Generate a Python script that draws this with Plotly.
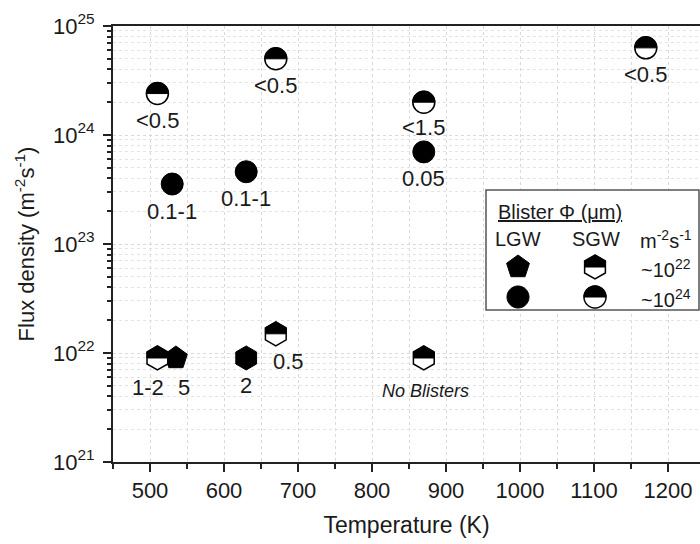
import numpy as np
import plotly.graph_objects as go

# ---------------- data ----------------
# LGW, ~1e24 m^-2 s^-1 (solid circles)
lgw_hi_T = [530, 630, 870]
lgw_hi_flux = [3.55e23, 4.6e23, 7.0e23]
lgw_hi_label = ["0.1-1", "0.1-1", "0.05"]

# SGW, ~1e24 m^-2 s^-1 (half-filled circles)
sgw_hi_T = [510, 670, 870, 1170]
sgw_hi_flux = [2.4e24, 5.0e24, 2.0e24, 6.3e24]
sgw_hi_label = ["<0.5", "<0.5", "<1.5", "<0.5"]

# LGW, ~1e22 m^-2 s^-1 (solid pentagon)
lgw_lo_T = [535]
lgw_lo_flux = [9.0e21]
lgw_lo_label = ["5"]

# LGW, ~1e22 (solid hexagon)
lgw_hex_T = [630]
lgw_hex_flux = [9.0e21]
lgw_hex_label = ["2"]

# SGW, ~1e22 m^-2 s^-1 (half-filled hexagons)
sgw_lo_T = [510, 670, 870]
sgw_lo_flux = [9.0e21, 1.5e22, 9.0e21]
sgw_lo_label = ["1-2", "0.5", "<i>No Blisters</i>"]

x_tickvals = [500, 600, 700, 800, 900, 1000, 1100, 1200]
x_ticktext = ["500", "600", "700", "800", "900", "1000", "1100", "1200"]
y_tickvals = [1e21, 1e22, 1e23, 1e24, 1e25]
y_ticktext = ["10<sup>21</sup>", "10<sup>22</sup>", "10<sup>23</sup>", "10<sup>24</sup>", "10<sup>25</sup>"]

# ---------------- glyph helpers (pixel paths, y up) ----------------
def poly_path(pts):
    pts = list(pts)
    return "M " + " L ".join(f"{x:.2f},{y:.2f}" for x, y in pts) + " Z"

def circle_full(R):
    th = np.linspace(0, 2 * np.pi, 65)[:-1]
    return poly_path(zip(R * np.cos(th), R * np.sin(th)))

def circle_top(R):
    th = np.linspace(0, np.pi, 33)
    return poly_path(zip(R * np.cos(th), R * np.sin(th)))

def hex_full(r):
    a = np.radians([90, 30, -30, -90, -150, 150])
    return poly_path(zip(r * np.cos(a), r * np.sin(a)))

def hex_top(r):
    x1 = r * np.sqrt(3) / 2
    return poly_path([(x1, 0), (x1, r / 2), (0, r), (-x1, r / 2), (-x1, 0)])

def pentagon(r):
    a = np.radians(90 + 72 * np.arange(5))
    return poly_path(zip(r * np.cos(a), r * np.sin(a)))

FONT = "Liberation Sans, Arial, sans-serif"
R_C = 11   # circle radius px
R_H = 12   # hexagon radius px

fig = go.Figure()

# solid circles
fig.add_trace(go.Scatter(x=lgw_hi_T, y=lgw_hi_flux, mode="markers",
                         marker=dict(symbol="circle", size=2 * R_C, color="black",
                                     line=dict(color="black", width=1)),
                         showlegend=False, hoverinfo="skip"))
# half circles (white base)
fig.add_trace(go.Scatter(x=sgw_hi_T, y=sgw_hi_flux, mode="markers",
                         marker=dict(symbol="circle", size=2 * R_C, color="white",
                                     line=dict(color="black", width=1.5)),
                         showlegend=False, hoverinfo="skip"))
# pentagon
fig.add_trace(go.Scatter(x=lgw_lo_T, y=lgw_lo_flux, mode="markers",
                         marker=dict(symbol="pentagon", size=24, color="black",
                                     line=dict(color="black", width=1)),
                         showlegend=False, hoverinfo="skip"))
# solid hexagon
fig.add_trace(go.Scatter(x=lgw_hex_T, y=lgw_hex_flux, mode="markers",
                         marker=dict(symbol="hexagon", size=2 * R_H, color="black",
                                     line=dict(color="black", width=1)),
                         showlegend=False, hoverinfo="skip"))
# half hexagons (white base)
fig.add_trace(go.Scatter(x=sgw_lo_T, y=sgw_lo_flux, mode="markers",
                         marker=dict(symbol="hexagon", size=2 * R_H, color="white",
                                     line=dict(color="black", width=1.5)),
                         showlegend=False, hoverinfo="skip"))

shapes = []
for t, f in zip(sgw_hi_T, sgw_hi_flux):
    shapes.append(dict(type="path", xref="x", yref="y", xsizemode="pixel", ysizemode="pixel",
                       xanchor=t, yanchor=f, path=circle_top(R_C),
                       fillcolor="black", line=dict(color="black", width=1), layer="above"))
for t, f in zip(sgw_lo_T, sgw_lo_flux):
    shapes.append(dict(type="path", xref="x", yref="y", xsizemode="pixel", ysizemode="pixel",
                       xanchor=t, yanchor=f, path=hex_top(R_H),
                       fillcolor="black", line=dict(color="black", width=1), layer="above"))

# ---------------- point labels ----------------
annotations = []
def add_labels(Ts, Fs, labels, offsets=None):
    for i, (t, f, lab) in enumerate(zip(Ts, Fs, labels)):
        dx, dy = (offsets or {}).get(i, (0, -27))
        annotations.append(dict(x=t, y=np.log10(f), xref="x", yref="y", text=lab,
                                showarrow=False, xshift=dx, yshift=dy,
                                font=dict(family=FONT, size=22, color="#1a1a1a")))

add_labels(lgw_hi_T, lgw_hi_flux, lgw_hi_label)
add_labels(sgw_hi_T, sgw_hi_flux, sgw_hi_label, {2: (0, -25)})
add_labels(lgw_lo_T, lgw_lo_flux, lgw_lo_label, {0: (8, -30)})
add_labels(lgw_hex_T, lgw_hex_flux, lgw_hex_label, {0: (0, -28)})
for i, (t, f, lab) in enumerate(zip(sgw_lo_T, sgw_lo_flux, sgw_lo_label)):
    dx, dy, sz = {0: (-9, -30, 22), 1: (13, -28, 22), 2: (2, -33, 18)}[i]
    annotations.append(dict(x=t, y=np.log10(f), xref="x", yref="y", text=lab,
                            showarrow=False, xshift=dx, yshift=dy,
                            font=dict(family=FONT, size=sz, color="#1a1a1a")))

# ---------------- custom legend box ----------------
L, T_, W, H = 113, 26, 587, 436
def px(xp): return (xp - L) / W
def py(yp): return (T_ + H - yp) / H

shapes.append(dict(type="rect", xref="paper", yref="paper", x0=px(486), x1=px(699),
                   y0=py(310), y1=py(190), fillcolor="white",
                   line=dict(color="#555555", width=1.5), layer="above"))
def leg_shape(xp, yp, path, fill, lw=1):
    shapes.append(dict(type="path", xref="paper", yref="paper", xsizemode="pixel", ysizemode="pixel",
                       xanchor=px(xp), yanchor=py(yp), path=path, fillcolor=fill,
                       line=dict(color="black", width=lw), layer="above"))
leg_shape(518, 267, pentagon(12), "black")
leg_shape(595, 267, hex_full(R_H), "white", 1.5)
leg_shape(595, 267, hex_top(R_H), "black")
leg_shape(518, 297, circle_full(R_C), "black")
leg_shape(595, 297, circle_full(R_C), "white", 1.5)
leg_shape(595, 297, circle_top(R_C), "black")

def leg_text(xp, yp, text, size=20, anchor="center"):
    annotations.append(dict(x=px(xp), y=py(yp), xref="paper", yref="paper", text=text,
                            showarrow=False, xanchor=anchor, yanchor="middle",
                            font=dict(family=FONT, size=size, color="#1a1a1a")))
leg_text(496, 212, "<u>Blister Φ (μm)</u>", 20, "left")
leg_text(518, 239, "LGW")
leg_text(596, 239, "SGW")
leg_text(666, 239, "m<sup>-2</sup>s<sup>-1</sup>")
leg_text(666, 268, "~10<sup>22</sup>")
leg_text(666, 298, "~10<sup>24</sup>")

fig.update_layout(
    width=700, height=544,
    margin=dict(l=L, r=0, t=T_, b=544 - T_ - H),
    paper_bgcolor="white", plot_bgcolor="white",
    font=dict(family=FONT, size=22, color="#1a1a1a"),
    shapes=shapes, annotations=annotations,
    showlegend=False,
)
fig.update_xaxes(
    range=[450, 450 + W / 0.74], tickmode="array", tickvals=x_tickvals, ticktext=x_ticktext,
    showline=True, linecolor="#222", linewidth=2, mirror=True,
    ticks="outside", ticklen=8, tickwidth=2, tickcolor="#222",
    showgrid=False, zeroline=False,
    minor=dict(tick0=450, dtick=50, ticks="outside", ticklen=5, tickwidth=1.5, tickcolor="#222",
               showgrid=True, gridcolor="#d9d9d9", griddash="dot", gridwidth=1),
    title=dict(text="Temperature (K)", font=dict(size=23), standoff=14),
    tickfont=dict(size=22),
)
fig.update_yaxes(
    type="log", range=[21, 25], tickmode="array", tickvals=y_tickvals, ticktext=y_ticktext,
    showline=True, linecolor="#222", linewidth=2,
    ticks="outside", ticklen=8, tickwidth=2, tickcolor="#222",
    showgrid=True, gridcolor="#d9d9d9", griddash="dot", gridwidth=1, zeroline=False,
    minor=dict(dtick="D1", ticks="outside", ticklen=4, tickwidth=1.5, tickcolor="#222",
               showgrid=True, gridcolor="#e3e3e3", griddash="dot", gridwidth=1),
    title=dict(text="Flux density (m<sup>-2</sup>s<sup>-1</sup>)", font=dict(size=22), standoff=12),
    tickfont=dict(size=22), ticklabelstandoff=4,
)

fig.write_html("out.html", config={"displayModeBar": False},
               post_script="document.body.style.margin='0';document.body.style.overflow='hidden';")
